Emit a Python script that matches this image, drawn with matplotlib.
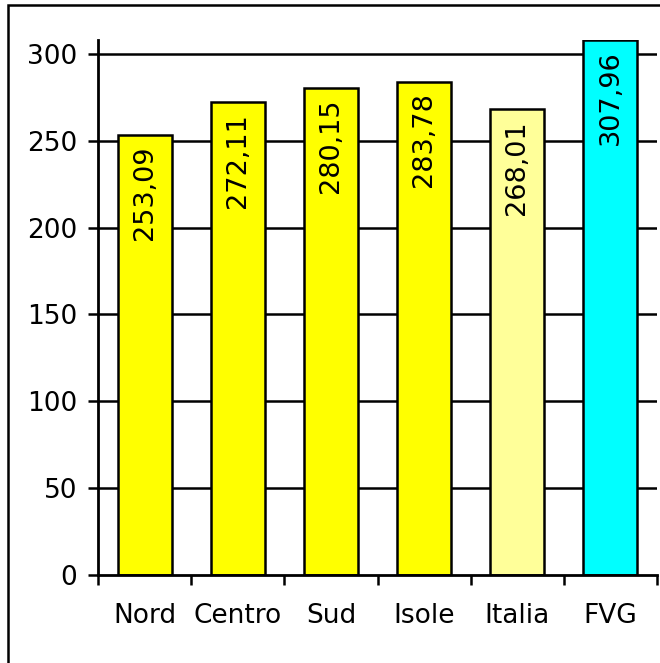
import matplotlib
matplotlib.use("Agg")
import matplotlib.pyplot as plt
from matplotlib.patches import Rectangle

categories = ["Nord", "Centro", "Sud", "Isole", "Italia", "FVG"]
values = [253.09, 272.11, 280.15, 283.78, 268.01, 307.96]
labels = ["253,09", "272,11", "280,15", "283,78", "268,01", "307,96"]
colors = ["#FFFF00", "#FFFF00", "#FFFF00", "#FFFF00", "#FFFF99", "#00FFFF"]
yticks = [0, 50, 100, 150, 200, 250, 300]

plt.rcParams['font.family'] = ['DejaVu Sans']

W, H = 660, 663
fig = plt.figure(figsize=(W / 100, H / 100), dpi=100)
ax = fig.add_axes([98 / W, 1 - 575 / H, (657 - 98) / W, (575 - 40) / H])

x = list(range(len(categories)))
ax.bar(x, values, width=0.58, color=colors, edgecolor="black", linewidth=1.8, zorder=3)
for xi, v, lab in zip(x, values, labels):
    ax.text(xi, v - 6, lab, rotation=90, ha="center", va="top", fontsize=19.5, zorder=4)

ax.set_xlim(-0.5, len(categories) - 0.5)
ax.set_ylim(0, 308)
ax.set_yticks(yticks)
ax.set_yticklabels([str(t) for t in yticks], fontsize=19)
for t in yticks[1:]:
    ax.axhline(t, color="black", linewidth=1.8, zorder=1)

ax.set_xticks([i - 0.5 for i in range(len(categories) + 1)])
ax.set_xticklabels([])
ax.set_xticks(x, minor=True)
ax.set_xticklabels(categories, minor=True, fontsize=19)
ax.tick_params(axis="x", which="major", length=7, width=1.8, direction="out")
ax.tick_params(axis="x", which="minor", length=0, pad=20)
ax.tick_params(axis="y", length=7, width=1.8, direction="out", pad=8)

for s in ["top", "right"]:
    ax.spines[s].set_visible(False)
for s in ["left", "bottom"]:
    ax.spines[s].set_linewidth(2)
    ax.spines[s].set_zorder(5)

fig.patches.append(Rectangle((8 / W, -0.1), 1.2, 1 - 5 / H + 0.1, transform=fig.transFigure,
                             fill=False, edgecolor="black", linewidth=1.8))

fig.savefig("out.png", dpi=100)
